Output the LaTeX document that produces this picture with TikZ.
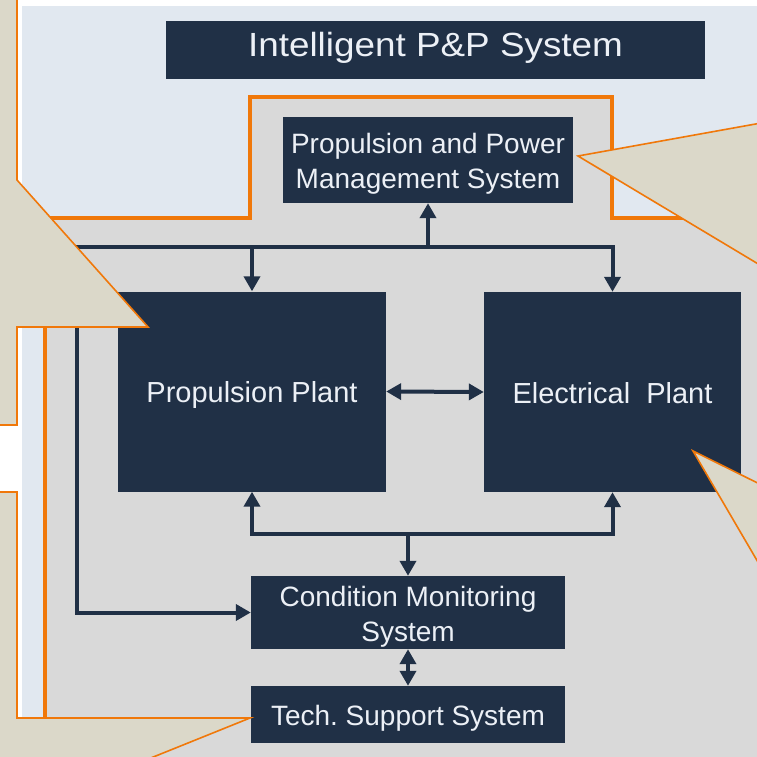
\documentclass[tikz,border=0pt]{standalone}
\usepackage{fontspec}
\setmainfont{Liberation Sans}
\newfontfamily\titlefont[FakeStretch=1.1]{Liberation Sans}
\usetikzlibrary{arrows.meta}
\frenchspacing

\definecolor{navy}{RGB}{32,48,70}
\definecolor{panelblue}{RGB}{225,232,240}
\definecolor{zonegray}{RGB}{217,217,217}
\definecolor{calloutfill}{RGB}{219,216,201}
\definecolor{edgeorange}{RGB}{240,120,10}
\definecolor{lighttext}{RGB}{236,240,246}

% line struts: fix each text line's height and depth so the lines sit
% slightly below the middle of their block
\newcommand\ls{\rule[-5pt]{0pt}{33pt}}
\newcommand\tls{\rule[-13.6pt]{0pt}{40pt}}

\tikzset{
  block/.style={fill=navy, text=lighttext, inner sep=0pt, align=center,
    font=\fontsize{28}{33}\selectfont},
  bigtext/.style={font=\fontsize{29}{33}\selectfont},
  conn/.style={draw=navy, line width=4pt},
  tri/.tip={Triangle[width=16pt,length=15pt]},
  callout/.style={fill=calloutfill, draw=edgeorange, line width=1.6pt, line join=miter},
  zone/.style={fill=zonegray, draw=edgeorange, line width=3.5pt}
}

\begin{document}
\begin{tikzpicture}[x=1pt, y=-1pt]
  \useasboundingbox (0,0) rectangle (757,757);
  \clip (0,0) rectangle (757,757);
  \fill[white] (0,0) rectangle (757,757);

  % outer panel
  \fill[panelblue] (22,6) rectangle (800,800);

  % plant zone with stepped top
  \draw[zone] (45,800) -- (45,218) -- (250,218) -- (250,97) -- (612,97)
    -- (612,218) -- (800,218) -- (800,800) -- cycle;

  % blocks
  \node[block, minimum width=539pt, minimum height=58pt,
        font=\titlefont\fontsize{33.5}{40}\selectfont] (title) at (435.5,50)
    {\tls Intelligent P\&P System};
  \node[block, minimum width=290pt, minimum height=86pt] (ppms) at (428,160)
    {\ls Propulsion and Power\\\ls Management System};
  \node[block, bigtext, minimum width=268pt, minimum height=200pt] (prop) at (252,391.5)
    {\ls Propulsion Plant};
  \node[block, bigtext, minimum width=257pt, minimum height=200pt] (elec) at (612.5,392)
    {\ls Electrical\ \ Plant};
  \node[block, minimum width=314pt, minimum height=73pt] (cms) at (408,612.5)
    {\ls Condition Monitoring\\\ls System};
  \node[block, minimum width=314pt, minimum height=57pt] (tss) at (408,714.5)
    {\ls Tech. Support System};

  % junction points of the buses
  \coordinate (jL) at (77,247);
  \coordinate (jB) at (408,534);

  % upper bus
  \draw[conn, tri-tri] (cms.west) -| (jL) -| (elec.north);
  \draw[conn, -tri] (prop.north |- jL) -- (prop.north);
  \draw[conn, -tri] (ppms.south |- jL) -- (ppms.south);

  % lower bus
  \draw[conn, tri-tri] (prop.south) |- (jB) -| (elec.south);
  \draw[conn, -tri] (jB) -- (cms.north);

  % direct links
  \draw[conn, tri-tri] (prop.east) -- (elec.west);
  \draw[conn, tri-tri] (cms.south) -- (tss.north);

  % callouts
  \draw[callout] (-10,-10) -- (17,-10) -- (17,180) -- (148,327) -- (17,327)
    -- (17,425) -- (-10,425) -- cycle;
  \draw[callout] (-10,492) -- (17,492) -- (17,718) -- (250,718) -- (121,770)
    -- (-10,770) -- cycle;
  \draw[callout] (578,156) -- (800,116) -- (800,289) -- cycle;
  \draw[callout] (693,451) -- (800,504) -- (800,634) -- cycle;
\end{tikzpicture}
\end{document}
